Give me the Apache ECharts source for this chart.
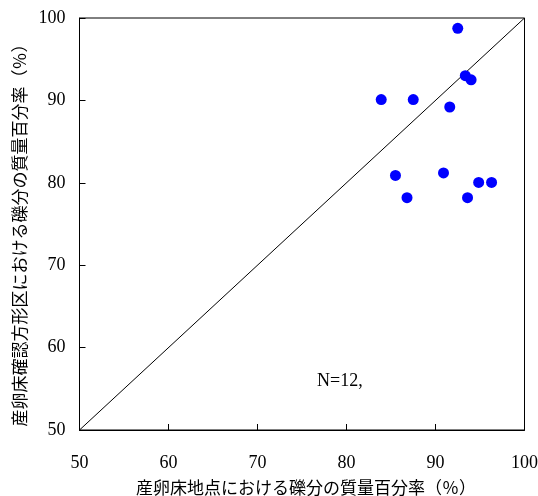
<!DOCTYPE html>
<html><head><meta charset="utf-8">
<script src="https://cdn.jsdelivr.net/npm/echarts@6/dist/echarts.min.js"></script>
<style>html,body{margin:0;padding:0;background:#fff}#c{width:538px;height:496px}</style>
</head><body><div id="c"></div>
<script>
const xTicks = [50, 60, 70, 80, 90, 100];
const yTicks = [50, 60, 70, 80, 90, 100];
const siteGravel = [83.9, 87.5, 92.5, 93.35, 94.0, 91.6, 85.5, 86.8, 90.9, 93.6, 94.85, 96.3];
const quadratGravel = [90.1, 90.1, 98.75, 93.0, 92.5, 89.2, 80.9, 78.2, 81.2, 78.2, 80.05, 80.05];
const diagonal = [[50, 50], [100, 100]];
const xTitle = '産卵床地点における礫分の質量百分率（％）';
const yTitle = '産卵床確認方形区における礫分の質量百分率（％）';
const note = 'N=12,';

const chart = echarts.init(document.getElementById('c'), null, {renderer: 'canvas'});
const serif = '"Liberation Serif","DejaVu Serif",serif';
const cjk = '"Noto Sans CJK JP","Noto Sans CJK SC",sans-serif';
chart.setOption({
  animation: false,
  backgroundColor: '#fff',
  grid: {left: 79.5, right: 13.5, top: 18, bottom: 66, outerBoundsMode: 'none', containLabel: false, show: true, borderColor: '#000', borderWidth: 1, backgroundColor: 'transparent'},
  xAxis: {
    type: 'value', min: xTicks[0], max: xTicks[xTicks.length - 1], interval: 10,
    axisLine: {show: true, lineStyle: {color: '#000', width: 1}},
    axisTick: {show: true, inside: true, length: 6, lineStyle: {color: '#000'}},
    splitLine: {show: false},
    axisLabel: {color: '#000', fontFamily: serif, fontSize: 18, margin: 24},
    name: xTitle, nameLocation: 'middle', nameGap: 49,
    nameTextStyle: {color: '#000', fontFamily: cjk, fontSize: 17, padding: [0, 0, 0, 8]}
  },
  yAxis: {
    type: 'value', min: yTicks[0], max: yTicks[yTicks.length - 1], interval: 10,
    axisLine: {show: true, lineStyle: {color: '#000', width: 1}},
    axisTick: {show: true, inside: true, length: 6, lineStyle: {color: '#000'}},
    splitLine: {show: false},
    axisLabel: {color: '#000', fontFamily: serif, fontSize: 18, margin: 14},
    name: yTitle, nameLocation: 'middle', nameGap: 51, nameRotate: 90,
    nameTextStyle: {color: '#000', fontFamily: cjk, fontSize: 17, padding: [0, 14, 0, 0]}
  },
  series: [
    {type: 'line', data: diagonal, showSymbol: false, symbol: 'none', lineStyle: {color: '#000', width: 1}, silent: true, z: 1},
    {type: 'scatter', data: siteGravel.map((v, i) => [v, quadratGravel[i]]), symbolSize: 11, itemStyle: {color: '#0000ff', opacity: 1}, z: 3}
  ],
  graphic: [{type: 'text', left: 317, top: 372, style: {text: note, font: '18px ' + serif, fill: '#000'}}]
});
</script></body></html>
